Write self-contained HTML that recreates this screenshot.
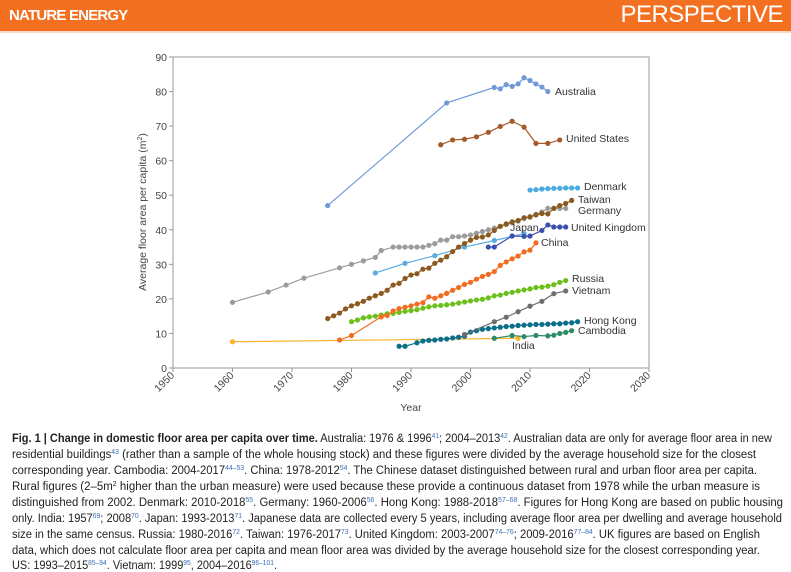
<!DOCTYPE html>
<html><head><meta charset="utf-8">
<style>
body{margin:0;width:791px;height:572px;overflow:hidden;background:#fff;font-family:"Liberation Sans",sans-serif;}
#hdr{position:absolute;left:0;top:0;width:791px;height:31px;background:#f37021;border-bottom:2px solid #f8d9c4;}
#hdr .l{position:absolute;left:9px;top:7px;color:#fff;font-weight:bold;font-size:15px;letter-spacing:-0.8px;}
#hdr .r{position:absolute;right:8px;top:1px;color:#fff;font-size:24px;letter-spacing:-0.5px;}
svg{position:absolute;left:0;top:0;}
</style></head><body>
<div id="hdr"><span class="l">NATURE ENERGY</span><span class="r">PERSPECTIVE</span></div>
<svg id="chart" width="791" height="420"></svg>
<svg id="cap" width="791" height="572" style="pointer-events:none">
<g font-family="Liberation Sans, sans-serif" font-size="11.5" fill="#222">
<text x="12" y="442" textLength="760" lengthAdjust="spacingAndGlyphs"><tspan font-weight="bold">Fig. 1 | Change in domestic floor area per capita over time.</tspan> Australia: 1976 &amp; 1996<tspan font-size="7" dy="-4" fill="#3a6fb5">41</tspan><tspan dy="4">; 2004–2013</tspan><tspan font-size="7" dy="-4" fill="#3a6fb5">42</tspan><tspan dy="4">. Australian data are only for average floor area in new</tspan></text>
<text x="12" y="458" textLength="744" lengthAdjust="spacingAndGlyphs">residential buildings<tspan font-size="7" dy="-4" fill="#3a6fb5">43</tspan><tspan dy="4"> (rather than a sample of the whole housing stock) and these figures were divided by the average household size for the closest</tspan></text>
<text x="12" y="474" textLength="745" lengthAdjust="spacingAndGlyphs">corresponding year. Cambodia: 2004-2017<tspan font-size="7" dy="-4" fill="#3a6fb5">44–53</tspan><tspan dy="4">. China: 1978-2012</tspan><tspan font-size="7" dy="-4" fill="#3a6fb5">54</tspan><tspan dy="4">. The Chinese dataset distinguished between rural and urban floor area per capita.</tspan></text>
<text x="12" y="490" textLength="748" lengthAdjust="spacingAndGlyphs">Rural figures (2–5m<tspan font-size="7" dy="-4">2</tspan><tspan dy="4"> higher than the urban measure) were used because these provide a continuous dataset from 1978 while the urban measure is</tspan></text>
<text x="12" y="506" textLength="771" lengthAdjust="spacingAndGlyphs">distinguished from 2002. Denmark: 2010-2018<tspan font-size="7" dy="-4" fill="#3a6fb5">55</tspan><tspan dy="4">. Germany: 1960-2006</tspan><tspan font-size="7" dy="-4" fill="#3a6fb5">56</tspan><tspan dy="4">. Hong Kong: 1988-2018</tspan><tspan font-size="7" dy="-4" fill="#3a6fb5">57–68</tspan><tspan dy="4">. Figures for Hong Kong are based on public housing</tspan></text>
<text x="12" y="522" textLength="770" lengthAdjust="spacingAndGlyphs">only. India: 1957<tspan font-size="7" dy="-4" fill="#3a6fb5">69</tspan><tspan dy="4">; 2008</tspan><tspan font-size="7" dy="-4" fill="#3a6fb5">70</tspan><tspan dy="4">. Japan: 1993-2013</tspan><tspan font-size="7" dy="-4" fill="#3a6fb5">71</tspan><tspan dy="4">. Japanese data are collected every 5 years, including average floor area per dwelling and average household</tspan></text>
<text x="12" y="538" textLength="748" lengthAdjust="spacingAndGlyphs">size in the same census. Russia: 1980-2016<tspan font-size="7" dy="-4" fill="#3a6fb5">72</tspan><tspan dy="4">. Taiwan: 1976-2017</tspan><tspan font-size="7" dy="-4" fill="#3a6fb5">73</tspan><tspan dy="4">. United Kingdom: 2003-2007</tspan><tspan font-size="7" dy="-4" fill="#3a6fb5">74–76</tspan><tspan dy="4">; 2009-2016</tspan><tspan font-size="7" dy="-4" fill="#3a6fb5">77–84</tspan><tspan dy="4">. UK figures are based on English</tspan></text>
<text x="12" y="554" textLength="748" lengthAdjust="spacingAndGlyphs">data, which does not calculate floor area per capita and mean floor area was divided by the average household size for the closest corresponding year.</text>
<text x="12" y="569" textLength="265" lengthAdjust="spacingAndGlyphs">US: 1993–2015<tspan font-size="7" dy="-4" fill="#3a6fb5">85–94</tspan><tspan dy="4">. Vietnam: 1999</tspan><tspan font-size="7" dy="-4" fill="#3a6fb5">95</tspan><tspan dy="4">, 2004–2016</tspan><tspan font-size="7" dy="-4" fill="#3a6fb5">96–101</tspan><tspan dy="4">.</tspan></text>
</g></svg>
<script>
const xTicks=[1950,1960,1970,1980,1990,2000,2010,2020,2030];
const yTicks=[0,10,20,30,40,50,60,70,80,90];
const ausYears=[1976,1996,2004,2005,2006,2007,2008,2009,2010,2011,2012,2013];
const ausVals=[47,76.7,81.2,80.8,82,81.5,82.2,84,83.2,82.2,81.3,80];
const usYears=[1995,1997,1999,2001,2003,2005,2007,2009,2011,2013,2015];
const usVals=[64.6,66,66.2,66.9,68.2,69.9,71.4,69.7,65,65,66];
const dkYears=[2010,2011,2012,2013,2014,2015,2016,2017,2018];
const dkVals=[51.5,51.6,51.8,51.9,52,52,52.1,52.1,52.1];
const twYears=[1976,1977,1978,1979,1980,1981,1982,1983,1984,1985,1986,1987,1988,1989,1990,1991,1992,1993,1994,1995,1996,1997,1998,1999,2000,2001,2002,2003,2004,2005,2006,2007,2008,2009,2010,2011,2012,2013,2014,2015,2016,2017];
const twVals=[14.3,15.1,15.9,17.1,18,18.6,19.3,20.2,20.9,21.6,22.5,24,24.5,25.9,26.9,27.3,28.6,28.9,30.3,31.2,32.2,33.7,35,36,37,37.8,37.9,38.5,39.8,41,41.7,42.3,42.7,43.5,43.7,44.3,44.7,44.6,46.2,47,47.6,48.5];
const deYears=[1960,1966,1969,1972,1978,1980,1982,1984,1985,1987,1988,1989,1990,1991,1992,1993,1994,1995,1996,1997,1998,1999,2000,2001,2002,2003,2004,2005,2006,2007,2008,2009,2010,2011,2012,2013,2014,2015,2016];
const deVals=[19,22,24,26,29,30,31,32,34,35,35,35,35,35,35,35.5,36,37,37,38,38,38.2,38.5,39,39.5,40,40.5,41,41.5,42,42.5,43.2,43.8,44.5,45.2,46.2,46.2,46.2,46.2];
const jpYears=[1984,1989,1994,1999,2004,2009];
const jpVals=[27.5,30.3,32.5,35,36.9,38.9];
const ukYears=[2003,2004,2007,2009,2010,2012,2013,2014,2015,2016];
const ukVals=[35,35,38.2,38.1,38.2,39.8,41.4,40.8,40.8,40.8];
const cnYears=[1978,1980,1985,1986,1987,1988,1989,1990,1991,1992,1993,1994,1995,1996,1997,1998,1999,2000,2001,2002,2003,2004,2005,2006,2007,2008,2009,2010,2011];
const cnVals=[8.1,9.4,14.8,15.2,16.5,17.2,17.6,18,18.5,18.9,20.6,20.2,20.9,21.6,22.5,23.3,24.2,24.8,25.7,26.5,27.1,27.9,29.7,30.7,31.6,32.4,33.6,34.1,36.2];
const ruYears=[1980,1981,1982,1983,1984,1985,1986,1987,1988,1989,1990,1991,1992,1993,1994,1995,1996,1997,1998,1999,2000,2001,2002,2003,2004,2005,2006,2007,2008,2009,2010,2011,2012,2013,2014,2015,2016];
const ruVals=[13.4,13.9,14.5,14.8,15,15.3,15.7,15.8,16.1,16.4,16.6,16.9,17.3,17.7,18,18.1,18.3,18.5,18.8,19.1,19.4,19.7,19.9,20.3,20.9,21.1,21.6,21.9,22.3,22.6,22.9,23.3,23.4,23.7,24.1,24.8,25.3];
const vnYears=[1999,2004,2006,2008,2010,2012,2014,2016];
const vnVals=[9.7,13.4,14.7,16.3,17.9,19.3,21.5,22.3];
const hkYears=[1988,1989,1991,1992,1993,1994,1995,1996,1997,1998,1999,2000,2001,2002,2003,2004,2005,2006,2007,2008,2009,2010,2011,2012,2013,2014,2015,2016,2017,2018];
const hkVals=[6.3,6.3,7.3,7.8,8,8.1,8.3,8.4,8.7,8.9,9.2,10.4,10.8,11.2,11.4,11.6,11.8,12,12.1,12.3,12.4,12.5,12.6,12.6,12.7,12.8,12.8,13,13.1,13.4];
const khYears=[2004,2007,2009,2011,2013,2014,2015,2016,2017];
const khVals=[8.6,9.4,9.1,9.4,9.3,9.5,10,10.3,10.8];
const inYears=[1960,2008];
const inVals=[7.6,8.6];

const NS='http://www.w3.org/2000/svg';
const svg=document.getElementById('chart');
const X0=173,X1=649,Y0=368,Y1=57;
const xs=v=>X0+(v-1950)/80*(X1-X0);
const ys=v=>Y0-v/90*(Y0-Y1);
function mk(t,a,p){const e=document.createElementNS(NS,t);for(const k in a)e.setAttribute(k,a[k]);(p||svg).appendChild(e);return e;}

const frame=mk('rect',{x:X0,y:Y1,width:X1-X0,height:Y0-Y1,fill:'none',stroke:'#999','stroke-width':1});


yTicks.forEach(v=>{
  mk('line',{x1:X0-4,x2:X0,y1:ys(v),y2:ys(v),stroke:'#999'});
  const t=mk('text',{x:X0-6,y:ys(v)+4,'text-anchor':'end','font-size':10.5,fill:'#444'});
  t.textContent=v;
  
  
});
xTicks.forEach(v=>{
  mk('line',{x1:xs(v),x2:xs(v),y1:Y0,y2:Y0+4,stroke:'#999'});
  const t=mk('text',{x:xs(v)+2,y:Y0+8,'text-anchor':'end','font-size':10.5,fill:'#444',transform:`rotate(-45 ${xs(v)+2} ${Y0+8})`});
  t.textContent=v;
  
  
});
const yt=mk('text',{x:146,y:212,'text-anchor':'middle','font-size':10.5,fill:'#444',transform:'rotate(-90 146 212)'});
yt.innerHTML='Average floor area per capita (m<tspan font-size="7" dy="-4">2</tspan><tspan dy="4">)</tspan>';


const xt=mk('text',{x:411,y:411,'text-anchor':'middle','font-size':10.5,fill:'#444'});
xt.textContent='Year';



const series=[
 ['germany',deYears,deVals,'#9c9c9c','Germany',578,214],
 ['india',inYears,inVals,'#f9b52c','India',512,349],
 ['japan',jpYears,jpVals,'#5aace0','Japan',510,231],
 ['hong-kong',hkYears,hkVals,'#0b6f8a','Hong Kong',584,324],
 ['cambodia',khYears,khVals,'#2e8b66','Cambodia',578,334],
 ['vietnam',vnYears,vnVals,'#6e6e6e','Vietnam',572,294],
 ['russia',ruYears,ruVals,'#6cc01c','Russia',572,282],
 ['china',cnYears,cnVals,'#f26d21','China',541,246],
 ['taiwan',twYears,twVals,'#8b5a1e','Taiwan',578,203],
 ['united-kingdom',ukYears,ukVals,'#3b4fb0','United Kingdom',571,231],
 ['denmark',dkYears,dkVals,'#4aabe0','Denmark',584,190],
 ['united-states',usYears,usVals,'#a65a2a','United States',566,142],
 ['australia',ausYears,ausVals,'#6f9ad8','Australia',555,95]
];
series.forEach(([id,yrs,vals,col,lab,lx,ly])=>{
  const g=mk('g',{});
  
  
  const pl=mk('polyline',{points:yrs.map((y,i)=>xs(y)+','+ys(vals[i])).join(' '),fill:'none',stroke:col,'stroke-width':1.2},g);
  
  
  yrs.forEach((y,i)=>{
    const c=mk('circle',{cx:xs(y),cy:ys(vals[i]),r:2.6,fill:col},g);
    
    
  });
  const t=mk('text',{x:lx,y:ly,'font-size':10.5,fill:'#333'},g);
  t.textContent=lab;
  
  
});
</script>
</body></html>
